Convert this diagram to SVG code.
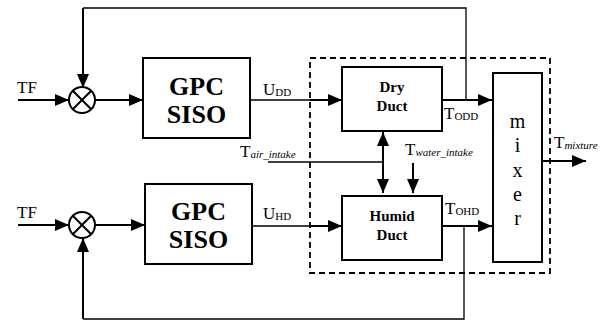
<svg xmlns="http://www.w3.org/2000/svg" width="612" height="323" viewBox="0 0 612 323" font-family="Liberation Serif, serif">
<defs>
<marker id="ahs" markerWidth="14" markerHeight="12" refX="14" refY="6" orient="auto" markerUnits="userSpaceOnUse" viewBox="0 0 14 12">
<path d="M0,0 L14,6 L0,12 Z" fill="#000"/>
</marker>
<marker id="ahr" markerWidth="14" markerHeight="12" refX="14" refY="6" orient="auto-start-reverse" markerUnits="userSpaceOnUse" viewBox="0 0 14 12">
<path d="M0,0 L14,6 L0,12 Z" fill="#000"/>
</marker>
</defs>
<style>
.box{fill:#fff;stroke:#000;stroke-width:2}
.thick{fill:none;stroke:#000;stroke-width:2}
.thin{fill:none;stroke:#000;stroke-width:1.3}
.dash{fill:none;stroke:#000;stroke-width:1.8;stroke-dasharray:6,4}
.big{font-weight:bold;font-size:26px;text-anchor:middle}
.med{font-weight:bold;font-size:15px;text-anchor:middle}
.lbl{font-size:17px}
.mix{font-size:20px;text-anchor:middle}
.sub{font-size:11px}
.isub{font-size:11px;font-style:italic}
</style>
<rect width="612" height="323" fill="#fff"/>
<g id="connectors">
<rect class="dash" x="310" y="58" width="240" height="215"/>
<line class="thick" x1="18" y1="100" x2="69" y2="100" marker-end="url(#ahs)"/>
<line class="thick" x1="95" y1="100" x2="143" y2="100" marker-end="url(#ahs)"/>
<line class="thin" x1="250" y1="100" x2="310" y2="100"/>
<line class="thick" x1="310" y1="100" x2="342" y2="100" marker-end="url(#ahs)"/>
<line class="thick" x1="442" y1="100" x2="492" y2="100" marker-end="url(#ahs)"/>
<polyline class="thin" points="466,100 466,8 83,8"/>
<line class="thick" x1="83" y1="8" x2="83" y2="88" marker-end="url(#ahs)"/>
<line class="thick" x1="18" y1="225" x2="69" y2="225" marker-end="url(#ahs)"/>
<line class="thick" x1="95" y1="225" x2="145" y2="225" marker-end="url(#ahs)"/>
<line class="thin" x1="252" y1="226" x2="310" y2="226"/>
<line class="thick" x1="310" y1="226" x2="342" y2="226" marker-end="url(#ahs)"/>
<line class="thick" x1="442" y1="226" x2="492" y2="226" marker-end="url(#ahs)"/>
<polyline class="thin" points="464,226 464,319 83,319"/>
<line class="thick" x1="83" y1="319" x2="83" y2="238" marker-end="url(#ahs)"/>
<line class="thin" x1="268" y1="162" x2="383" y2="162"/>
<line class="thick" x1="383" y1="132" x2="383" y2="193" marker-start="url(#ahr)" marker-end="url(#ahr)"/>
<line class="thick" x1="413" y1="163" x2="413" y2="193" marker-end="url(#ahs)"/>
<line class="thick" x1="542" y1="161" x2="586" y2="161" marker-end="url(#ahs)"/>
</g>
<g id="sum1">
<circle class="box" cx="82" cy="100" r="13"/>
<line class="thick" x1="72.8" y1="90.8" x2="91.2" y2="109.2"/>
<line class="thick" x1="91.2" y1="90.8" x2="72.8" y2="109.2"/>
</g>
<g id="sum2">
<circle class="box" cx="82" cy="225" r="13"/>
<line class="thick" x1="72.8" y1="215.8" x2="91.2" y2="234.2"/>
<line class="thick" x1="91.2" y1="215.8" x2="72.8" y2="234.2"/>
</g>
<g id="gpc1">
<rect class="box" x="143" y="58" width="107" height="80"/>
<text class="big" x="196.5" y="95" font-family="Liberation Serif, serif">GPC</text>
<text class="big" x="196.5" y="123" font-family="Liberation Serif, serif">SISO</text>
</g>
<g id="gpc2">
<rect class="box" x="145" y="184" width="107" height="80"/>
<text class="big" x="198.5" y="220" font-family="Liberation Serif, serif">GPC</text>
<text class="big" x="198.5" y="248" font-family="Liberation Serif, serif">SISO</text>
</g>
<g id="dry">
<rect class="box" x="342" y="67" width="100" height="64"/>
<text class="med" x="392" y="92" font-family="Liberation Serif, serif">Dry</text>
<text class="med" x="392" y="111" font-family="Liberation Serif, serif">Duct</text>
</g>
<g id="humid">
<rect class="box" x="342" y="196" width="100" height="64"/>
<text class="med" x="392" y="221" font-family="Liberation Serif, serif">Humid</text>
<text class="med" x="392" y="240" font-family="Liberation Serif, serif">Duct</text>
</g>
<g id="mixer" font-family="Liberation Serif, serif">
<rect class="box" x="493" y="73" width="49" height="189"/>
<text class="mix" x="517.5" y="128">m</text>
<text class="mix" x="517.5" y="152">i</text>
<text class="mix" x="517.5" y="177">x</text>
<text class="mix" x="517.5" y="201">e</text>
<text class="mix" x="517.5" y="225">r</text>
</g>
<g id="labels" font-family="Liberation Serif, serif">
<text class="lbl" x="17" y="93">TF</text>
<text class="lbl" x="17" y="218">TF</text>
<text class="lbl" x="263" y="95">U<tspan class="sub" dy="1">DD</tspan></text>
<text class="lbl" x="263" y="219">U<tspan class="sub" dy="1">HD</tspan></text>
<text class="lbl" x="444" y="119">T<tspan class="sub" dy="1">ODD</tspan></text>
<text class="lbl" x="445" y="214">T<tspan class="sub" dy="1">OHD</tspan></text>
<text class="lbl" x="240" y="157">T<tspan class="isub" dy="1">air_intake</tspan></text>
<text class="lbl" x="405" y="155">T<tspan class="isub" dy="1">water_intake</tspan></text>
<text class="lbl" x="554" y="148">T<tspan class="isub" dy="1">mixture</tspan></text>
</g>
</svg>
